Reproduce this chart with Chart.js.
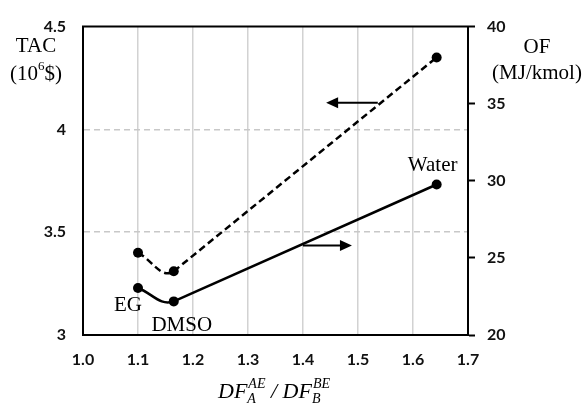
<!DOCTYPE html>
<html lang="en">
<head>
<meta charset="UTF-8">
<title>TAC and OF vs DF ratio</title>
<script src="https://cdn.jsdelivr.net/npm/chart.js@4"></script>
<style>
  html, body { margin: 0; padding: 0; background: #fff; }
</style>
</head>
<body>
<canvas id="chart" width="586" height="410"></canvas>
<script>
    // data
    const ratio = [1.10, 1.165, 1.643];
    const tac = [3.40, 3.31, 4.35];      // 10^6 $
    const of = [23.05, 22.18, 29.76];    // MJ/kmol
    const solvents = ['EG', 'DMSO', 'Water'];

    const xTicks = [1.0, 1.1, 1.2, 1.3, 1.4, 1.5, 1.6, 1.7];
    const tacTicks = [3, 3.5, 4, 4.5];
    const ofTicks = [20, 25, 30, 35, 40];

    // arrows pointing to the axis of each curve: [x start, x end, y]
    const arrowTac = [1.536, 1.442, 4.13];
    const arrowOf = [1.40, 1.489, 25.8];

    const tickFont = { family: 'Lato', size: 16, weight: 'bold' };
    const serif = 'Liberation Serif';

    function pts(ys, from) {
        return ratio.map((x, i) => ({ x: x, y: ys[i] })).slice(from || 0);
    }

    // only the first (curved) segment is drawn from the spline dataset
    const firstSegOnly = ctx => ctx.p0DataIndex === 0 ? '#000' : 'rgba(0,0,0,0)';

    function drawArrow(ctx, x0, x1, y) {
        const dir = Math.sign(x1 - x0);
        ctx.beginPath();
        ctx.moveTo(x0, y);
        ctx.lineTo(x1 - dir * 10, y);
        ctx.stroke();
        ctx.beginPath();
        ctx.moveTo(x1, y);
        ctx.lineTo(x1 - dir * 12, y - 5.5);
        ctx.lineTo(x1 - dir * 12, y + 5.5);
        ctx.closePath();
        ctx.fill();
    }

    const extras = {
        id: 'extras',
        afterDraw(chart) {
            const { ctx, chartArea: a, scales } = chart;
            ctx.save();
            ctx.strokeStyle = '#000';
            ctx.fillStyle = '#000';
            ctx.lineWidth = 2;

            // top frame
            ctx.beginPath();
            ctx.moveTo(a.left - 1, a.top);
            ctx.lineTo(a.right + 1, a.top);
            ctx.stroke();

            // arrows
            drawArrow(ctx, scales.x.getPixelForValue(arrowTac[0]), scales.x.getPixelForValue(arrowTac[1]),
                scales.y.getPixelForValue(arrowTac[2]));
            drawArrow(ctx, scales.x.getPixelForValue(arrowOf[0]), scales.x.getPixelForValue(arrowOf[1]),
                scales.y1.getPixelForValue(arrowOf[2]));

            // solvent labels next to the OF points
            const meta = chart.getDatasetMeta(2);
            const offs = [[-10, 18], [8, 24], [-4, -19]];
            ctx.font = '21px "' + serif + '"';
            ctx.textAlign = 'center';
            ctx.textBaseline = 'middle';
            solvents.forEach((s, i) => {
                const p = meta.data[i];
                ctx.fillText(s, p.x + offs[i][0], p.y + offs[i][1]);
            });

            // left axis title
            ctx.fillText('TAC', 36, 46);
            ctx.textAlign = 'left';
            const w1 = ctx.measureText('(10').width;
            const w2 = ctx.measureText('$)').width;
            ctx.font = '13px "' + serif + '"';
            const w6 = ctx.measureText('6').width;
            let sx = 36 - (w1 + w6 + w2) / 2;
            ctx.font = '21px "' + serif + '"';
            ctx.fillText('(10', sx, 74);
            ctx.font = '13px "' + serif + '"';
            ctx.fillText('6', sx + w1, 67);
            ctx.font = '21px "' + serif + '"';
            ctx.fillText('$)', sx + w1 + w6, 74);

            // right axis title
            ctx.textAlign = 'center';
            ctx.fillText('OF', 537, 47);
            ctx.fillText('(MJ/kmol)', 537, 73);

            // x axis title: DF_A^AE / DF_B^BE
            const big = 'italic 22px "' + serif + '"';
            const small = 'italic 14px "' + serif + '"';
            const parts = [
                { t: 'DF' }, { sub: 'A', sup: 'AE' }, { t: ' / ' }, { t: 'DF' }, { sub: 'B', sup: 'BE' }
            ];
            let total = 0;
            parts.forEach(p => {
                if (p.t) { ctx.font = big; p.w = ctx.measureText(p.t).width; }
                else {
                    ctx.font = small;
                    p.w = Math.max(ctx.measureText(p.sub).width, ctx.measureText(p.sup).width) + 1;
                }
                total += p.w;
            });
            let cx = 274 - total / 2;
            const base = 398;
            ctx.textAlign = 'left';
            ctx.textBaseline = 'alphabetic';
            parts.forEach(p => {
                if (p.t) {
                    ctx.font = big;
                    ctx.fillText(p.t, cx, base);
                } else {
                    ctx.font = small;
                    ctx.fillText(p.sup, cx + 1, base - 10);
                    ctx.fillText(p.sub, cx, base + 5);
                }
                cx += p.w;
            });
            ctx.restore();
        }
    };

    new Chart(document.getElementById('chart'), {
        type: 'line',
        data: {
            datasets: [
                {
                    label: 'TAC', data: pts(tac), yAxisID: 'y',
                    borderColor: '#000', backgroundColor: '#000', borderWidth: 2.5, borderDash: [7, 4],
                    tension: 0.4, pointRadius: 5, pointBackgroundColor: '#000', pointBorderWidth: 0,
                    segment: { borderColor: firstSegOnly }
                },
                {
                    label: 'TAC line', data: pts(tac, 1), yAxisID: 'y',
                    borderColor: '#000', borderWidth: 2.5, borderDash: [7, 4], tension: 0, pointRadius: 0
                },
                {
                    label: 'OF', data: pts(of), yAxisID: 'y1',
                    borderColor: '#000', backgroundColor: '#000', borderWidth: 2.5,
                    tension: 0.4, pointRadius: 5, pointBackgroundColor: '#000', pointBorderWidth: 0,
                    segment: { borderColor: firstSegOnly }
                },
                {
                    label: 'OF line', data: pts(of, 1), yAxisID: 'y1',
                    borderColor: '#000', borderWidth: 2.5, tension: 0, pointRadius: 0
                }
            ]
        },
        options: {
            responsive: false,
            animation: false,
            devicePixelRatio: 1,
            layout: { padding: { top: 14, left: 0, right: 0, bottom: 0 } },
            plugins: {
                legend: { display: false },
                tooltip: { enabled: false }
            },
            scales: {
                x: {
                    type: 'linear', min: 1.0, max: 1.7,
                    afterBuildTicks: s => { s.ticks = xTicks.map(v => ({ value: v })); },
                    afterFit: s => { s.height = 75; },
                    grid: {
                        color: c => (c.index === 0 || c.index === xTicks.length - 1) ? 'rgba(0,0,0,0)' : '#d2d2d2',
                        lineWidth: 1.5, drawTicks: false
                    },
                    border: { color: '#000', width: 2 },
                    ticks: { color: '#111', font: tickFont, padding: 15, callback: v => v.toFixed(1) }
                },
                y: {
                    position: 'left', min: 3, max: 4.5,
                    afterBuildTicks: s => { s.ticks = tacTicks.map(v => ({ value: v })); },
                    afterFit: s => { s.width = 83; },
                    grid: {
                        color: c => (c.index === 0 || c.index === tacTicks.length - 1) ? 'rgba(0,0,0,0)' : '#c8c8c8',
                        lineWidth: 1.5, drawTicks: false
                    },
                    border: { color: '#000', width: 2, dash: [6, 4] },
                    ticks: { color: '#111', font: tickFont, padding: 17, callback: v => String(v) }
                },
                y1: {
                    position: 'right', min: 20, max: 40,
                    afterBuildTicks: s => { s.ticks = ofTicks.map(v => ({ value: v })); },
                    afterFit: s => { s.width = 118; },
                    grid: {
                        drawOnChartArea: false, drawTicks: true, tickLength: 7,
                        tickColor: '#000', tickWidth: 2
                    },
                    border: { color: '#000', width: 2 },
                    ticks: { color: '#111', font: tickFont, padding: 12 }
                }
            }
        },
        plugins: [extras]
    });
</script>
</body>
</html>
